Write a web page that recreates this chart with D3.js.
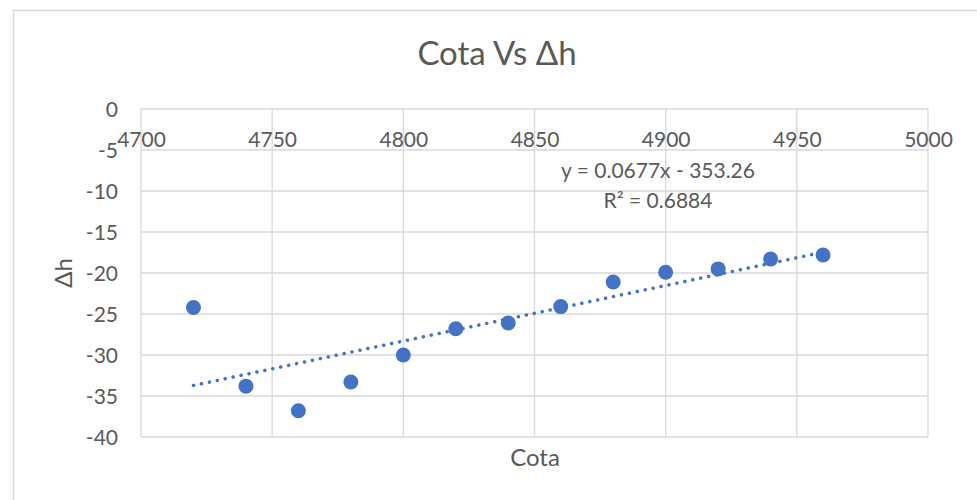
<!DOCTYPE html>
<html>
<head>
  <meta charset="UTF-8" />
  <title>Cota Vs Δh</title>
  <script src="https://d3js.org/d3.v7.min.js"></script>
  <style>
    body { margin: 0; background: #fff; }
    text { font-family: Lato, "Open Sans", sans-serif; fill: #595959; }
    .grid line { stroke: #d9d9d9; stroke-width: 1.3; }
    .tick text { font-size: 21px; }
  </style>
</head>
<body>
<svg id="chart" width="977" height="500"></svg>
<script>
  // données
  const cota = [4720, 4740, 4760, 4780, 4800, 4820, 4840, 4860, 4880, 4900, 4920, 4940, 4960];
  const dh = [-24.2, -33.8, -36.8, -33.3, -30.0, -26.8, -26.1, -24.1, -21.1, -19.9, -19.5, -18.3, -17.8];
  const xTicks = [4700, 4750, 4800, 4850, 4900, 4950, 5000];
  const yTicks = [0, -5, -10, -15, -20, -25, -30, -35, -40];
  const trend = { slope: 0.0677, intercept: -353.26, r2: 0.6884 };

  const svg = d3.select("#chart");
  const plotL = 141, plotR = 928, plotT = 109, plotB = 437;

  const x = d3.scaleLinear().domain([4700, 5000]).range([plotL, plotR]);
  const y = d3.scaleLinear().domain([-40, 0]).range([plotB, plotT]);

  // cadre du graphique
  svg.append("rect")
    .attr("x", 13.5).attr("y", 10.5)
    .attr("width", 1000).attr("height", 520)
    .attr("fill", "none")
    .attr("stroke", "#d9d9d9")
    .attr("stroke-width", 1.5);

  // quadrillage
  const grid = svg.append("g").attr("class", "grid");
  grid.selectAll(".h").data(yTicks).enter().append("line")
    .attr("x1", plotL).attr("x2", plotR)
    .attr("y1", d => y(d)).attr("y2", d => y(d));
  grid.selectAll(".v").data(xTicks).enter().append("line")
    .attr("x1", d => x(d)).attr("x2", d => x(d))
    .attr("y1", plotT).attr("y2", plotB);

  // axe Y
  const yAxis = svg.append("g")
    .attr("transform", `translate(${plotL},0)`)
    .call(d3.axisLeft(y).tickValues(yTicks).tickSize(0).tickPadding(23).tickFormat(d => String(d)));
  yAxis.select(".domain").remove();
  yAxis.selectAll("text").attr("dy", "0.35em");

  // axe X (étiquettes sous la ligne y = 0)
  const xAxis = svg.append("g")
    .attr("transform", `translate(0,${y(0)})`)
    .call(d3.axisBottom(x).tickValues(xTicks).tickSize(0).tickPadding(31).tickFormat(d => String(d)));
  xAxis.select(".domain").remove();
  xAxis.selectAll("text").attr("dy", "0.35em");

  // courbe de tendance (pointillés)
  const tx = d3.extent(cota);
  svg.append("line")
    .attr("x1", x(tx[0])).attr("y1", y(trend.slope * tx[0] + trend.intercept))
    .attr("x2", x(tx[1])).attr("y2", y(trend.slope * tx[1] + trend.intercept))
    .attr("stroke", "#4472c4")
    .attr("stroke-width", 3.5)
    .attr("stroke-linecap", "round")
    .attr("stroke-dasharray", "0.1 8");

  // points
  svg.selectAll(".pt").data(cota).enter().append("circle")
    .attr("cx", d => x(d))
    .attr("cy", (d, i) => y(dh[i]))
    .attr("r", 7.5)
    .attr("fill", "#4472c4");

  // titres
  svg.append("text").attr("x", 497).attr("y", 65)
    .attr("text-anchor", "middle").style("font-size", "33px")
    .text("Cota Vs Δh");
  svg.append("text").attr("x", 535).attr("y", 466)
    .attr("text-anchor", "middle").style("font-size", "24px")
    .text("Cota");
  svg.append("text")
    .attr("transform", "translate(72,273) rotate(-90)")
    .attr("text-anchor", "middle").style("font-size", "24px")
    .text("Δh");

  // équation de la tendance
  svg.append("text").attr("x", 658).attr("y", 178)
    .attr("text-anchor", "middle").style("font-size", "21px")
    .text(`y = ${trend.slope}x - ${Math.abs(trend.intercept)}`);
  svg.append("text").attr("x", 658).attr("y", 208)
    .attr("text-anchor", "middle").style("font-size", "21px")
    .text(`R² = ${trend.r2}`);
</script>
</body>
</html>
